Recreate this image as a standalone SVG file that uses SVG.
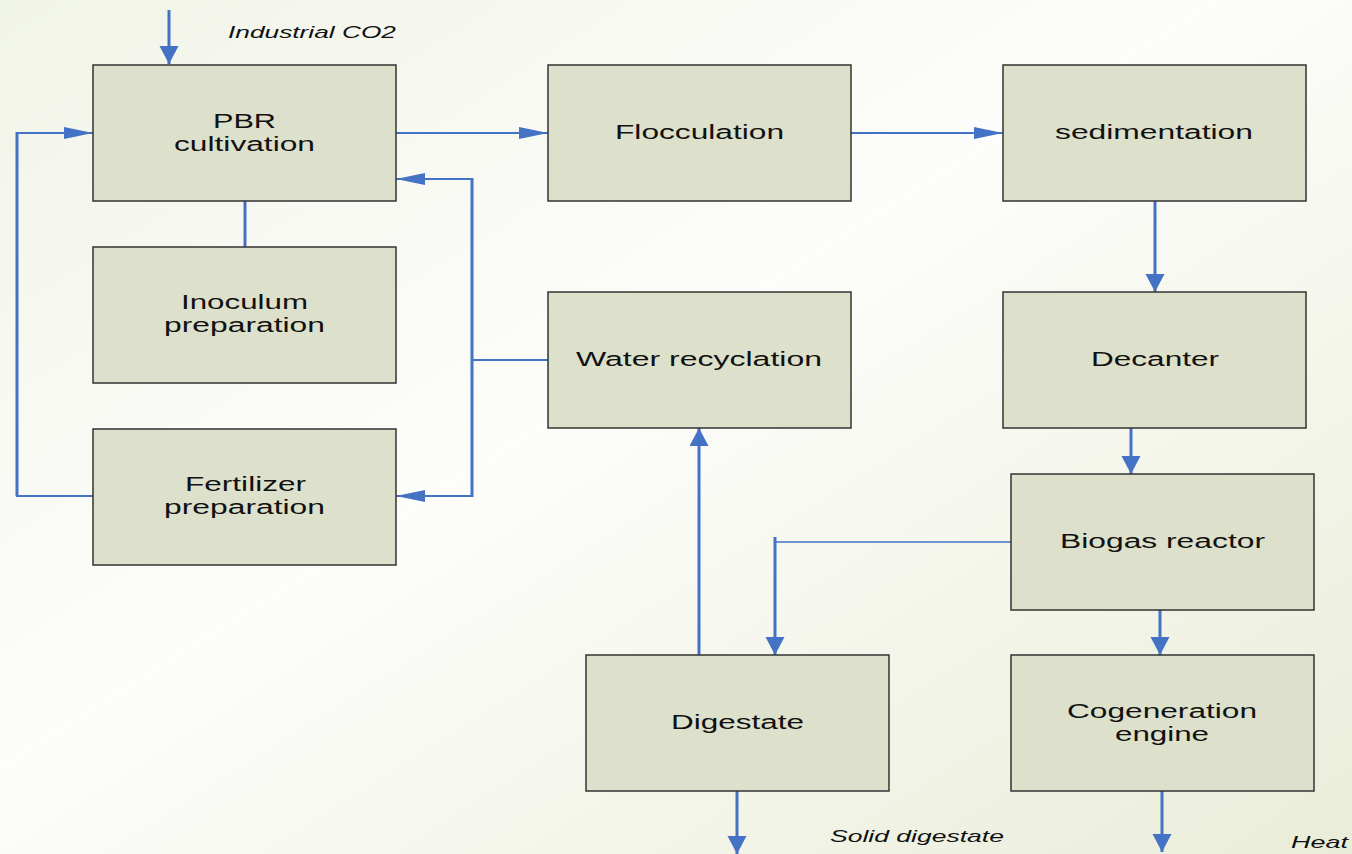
<svg xmlns="http://www.w3.org/2000/svg" width="1352" height="854" viewBox="0 0 1352 854">
<style>
.box{fill:#dde0cb;stroke:#333;stroke-width:1.5}
.lbl{font-family:"Liberation Sans",Arial,sans-serif;font-size:20px;fill:#111;text-anchor:middle}
.note{font-family:"Liberation Sans",Arial,sans-serif;font-size:17px;font-style:italic;fill:#111}
.h{stroke:#4472c4;stroke-width:2;fill:none}
.v{stroke:#4472c4;stroke-width:3;fill:none}
.t{stroke:#4472c4;stroke-width:1.5;fill:none}
</style>
<defs>
<linearGradient id="bg" x1="0" y1="0" x2="1" y2="1">
<stop offset="0" stop-color="#f1f4e8"/>
<stop offset="0.45" stop-color="#fdfdfb"/>
<stop offset="1" stop-color="#e9edd8"/>
</linearGradient>
<marker id="ah" markerUnits="userSpaceOnUse" markerWidth="30" markerHeight="14" refX="29" refY="6" orient="auto">
<path d="M0,0 L29,6 L0,12 Z" fill="#4472c4"/>
</marker>
<marker id="av" markerUnits="userSpaceOnUse" markerWidth="19" markerHeight="20" refX="18" refY="9.5" orient="auto">
<path d="M0,0 L18,9.5 L0,19 Z" fill="#4472c4"/>
</marker>
</defs>
<rect width="1352" height="854" fill="url(#bg)"/>

<g id="connectors">
<line class="v" x1="169" y1="10" x2="169" y2="64" marker-end="url(#av)"/>
<polyline class="h" points="93,496 17,496 17,133"/>
<line class="v" x1="17" y1="496" x2="17" y2="132"/>
<line class="h" x1="16" y1="133" x2="93" y2="133" marker-end="url(#ah)"/>
<line class="v" x1="245" y1="201" x2="245" y2="247"/>
<line class="h" x1="396" y1="133" x2="548" y2="133" marker-end="url(#ah)"/>
<line class="h" x1="851" y1="133" x2="1003" y2="133" marker-end="url(#ah)"/>
<line class="h" x1="548" y1="360" x2="472" y2="360"/>
<line class="v" x1="472" y1="178" x2="472" y2="497"/>
<line class="h" x1="473" y1="179" x2="396" y2="179" marker-end="url(#ah)"/>
<line class="h" x1="473" y1="496" x2="396" y2="496" marker-end="url(#ah)"/>
<line class="v" x1="1155" y1="201" x2="1155" y2="292" marker-end="url(#av)"/>
<line class="v" x1="1131" y1="428" x2="1131" y2="474" marker-end="url(#av)"/>
<line class="t" x1="1011" y1="542" x2="775" y2="542"/>
<line class="v" x1="775" y1="537" x2="775" y2="655" marker-end="url(#av)"/>
<line class="v" x1="699" y1="655" x2="699" y2="428" marker-end="url(#av)"/>
<line class="v" x1="1160" y1="610" x2="1160" y2="655" marker-end="url(#av)"/>
<line class="v" x1="737" y1="791" x2="737" y2="854" marker-end="url(#av)"/>
<line class="v" x1="1162" y1="791" x2="1162" y2="852" marker-end="url(#av)"/>
</g>

<g id="pbr">
<rect class="box" x="93" y="65" width="303" height="136"/>
<text class="lbl" x="244.5" y="128" textLength="63" lengthAdjust="spacingAndGlyphs">PBR</text>
<text class="lbl" x="244.5" y="151" textLength="141" lengthAdjust="spacingAndGlyphs">cultivation</text>
</g>
<g id="inoculum">
<rect class="box" x="93" y="247" width="303" height="136"/>
<text class="lbl" x="244.5" y="309" textLength="127" lengthAdjust="spacingAndGlyphs">Inoculum</text>
<text class="lbl" x="244.5" y="332" textLength="161" lengthAdjust="spacingAndGlyphs">preparation</text>
</g>
<g id="fertilizer">
<rect class="box" x="93" y="429" width="303" height="136"/>
<text class="lbl" x="245.5" y="491" textLength="121" lengthAdjust="spacingAndGlyphs">Fertilizer</text>
<text class="lbl" x="244.5" y="514" textLength="161" lengthAdjust="spacingAndGlyphs">preparation</text>
</g>
<g id="flocculation">
<rect class="box" x="548" y="65" width="303" height="136"/>
<text class="lbl" x="699.5" y="139" textLength="169" lengthAdjust="spacingAndGlyphs">Flocculation</text>
</g>
<g id="sedimentation">
<rect class="box" x="1003" y="65" width="303" height="136"/>
<text class="lbl" x="1154" y="139" textLength="198" lengthAdjust="spacingAndGlyphs">sedimentation</text>
</g>
<g id="water">
<rect class="box" x="548" y="292" width="303" height="136"/>
<text class="lbl" x="699" y="366" textLength="246" lengthAdjust="spacingAndGlyphs">Water recyclation</text>
</g>
<g id="decanter">
<rect class="box" x="1003" y="292" width="303" height="136"/>
<text class="lbl" x="1155" y="366" textLength="128" lengthAdjust="spacingAndGlyphs">Decanter</text>
</g>
<g id="biogas">
<rect class="box" x="1011" y="474" width="303" height="136"/>
<text class="lbl" x="1162.5" y="548" textLength="205" lengthAdjust="spacingAndGlyphs">Biogas reactor</text>
</g>
<g id="digestate">
<rect class="box" x="586" y="655" width="303" height="136"/>
<text class="lbl" x="737.5" y="729" textLength="133" lengthAdjust="spacingAndGlyphs">Digestate</text>
</g>
<g id="cogeneration">
<rect class="box" x="1011" y="655" width="303" height="136"/>
<text class="lbl" x="1162" y="718" textLength="190" lengthAdjust="spacingAndGlyphs">Cogeneration</text>
<text class="lbl" x="1162" y="741" textLength="94" lengthAdjust="spacingAndGlyphs">engine</text>
</g>

<g id="labels">
<text class="note" x="228" y="38" textLength="168" lengthAdjust="spacingAndGlyphs">Industrial CO2</text>
<text class="note" x="830" y="842" textLength="174" lengthAdjust="spacingAndGlyphs">Solid digestate</text>
<text class="note" x="1291" y="848" textLength="57" lengthAdjust="spacingAndGlyphs">Heat</text>
</g>
</svg>
